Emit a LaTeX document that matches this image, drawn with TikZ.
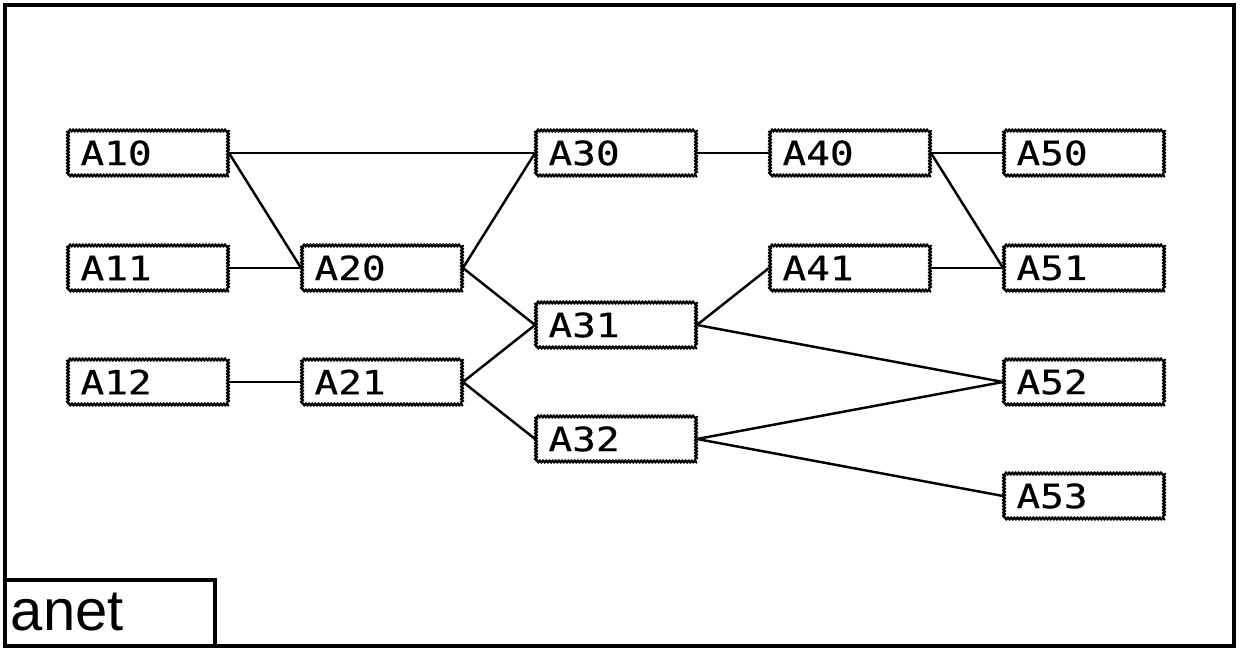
\documentclass[tikz,border=0pt]{standalone}
\usepackage{fontspec}
\setsansfont{Liberation Sans}
\newfontfamily\unitfont[FakeStretch=1.18, FakeBold=0.6]{DejaVu Sans Mono}
\usetikzlibrary{decorations.pathmorphing}

\begin{document}
\begin{tikzpicture}[line width=1.1pt,
  unit/.style={draw=black, line width=1.1pt, line join=round, decorate, decoration={zigzag, segment length=1.8pt, amplitude=0.75pt},
    minimum height=0.9cm, text width=2.7cm, inner xsep=0.25cm, align=left, font=\fontsize{19}{22}\selectfont\unitfont},
  link/.style={line width=1.4pt}]
\useasboundingbox (0,0) rectangle (24.8,13);
\draw[line width=2.4pt] (0.1,0.08) rectangle (24.68,12.9);
\draw[line width=1.8pt] (0.1,0.08) rectangle (4.3,1.4);
\node[anchor=west, inner sep=0pt, font=\fontsize{33}{35}\selectfont\sffamily] (title) at (0.2,0.76) {anet};
% layer 1
\node[unit] (a10) at (2.96, 9.94) {A10};
\node[unit] (a11) at (2.96, 7.64) {A11};
\node[unit] (a12) at (2.96, 5.36) {A12};
% layer 2
\node[unit] (a20) at (7.64, 7.64) {A20};
\node[unit] (a21) at (7.64, 5.36) {A21};
% layer 3
\node[unit] (a30) at (12.32, 9.94) {A30};
\node[unit] (a31) at (12.32, 6.50) {A31};
\node[unit] (a32) at (12.32, 4.22) {A32};
% layer 4
\node[unit] (a40) at (17.00, 9.94) {A40};
\node[unit] (a41) at (17.00, 7.64) {A41};
% layer 5
\node[unit] (a50) at (21.68, 9.94) {A50};
\node[unit] (a51) at (21.68, 7.64) {A51};
\node[unit] (a52) at (21.68, 5.36) {A52};
\node[unit] (a53) at (21.68, 3.08) {A53};
\draw[link] (a10.east) -- (a30.west);
\draw[link] (a10.east) -- (a20.west);
\draw[link] (a11.east) -- (a20.west);
\draw[link] (a12.east) -- (a21.west);
\draw[link] (a20.east) -- (a30.west);
\draw[link] (a20.east) -- (a31.west);
\draw[link] (a21.east) -- (a31.west);
\draw[link] (a21.east) -- (a32.west);
\draw[link] (a30.east) -- (a40.west);
\draw[link] (a31.east) -- (a41.west);
\draw[link] (a31.east) -- (a52.west);
\draw[link] (a32.east) -- (a52.west);
\draw[link] (a32.east) -- (a53.west);
\draw[link] (a40.east) -- (a50.west);
\draw[link] (a40.east) -- (a51.west);
\draw[link] (a41.east) -- (a51.west);
\end{tikzpicture}
\end{document}
